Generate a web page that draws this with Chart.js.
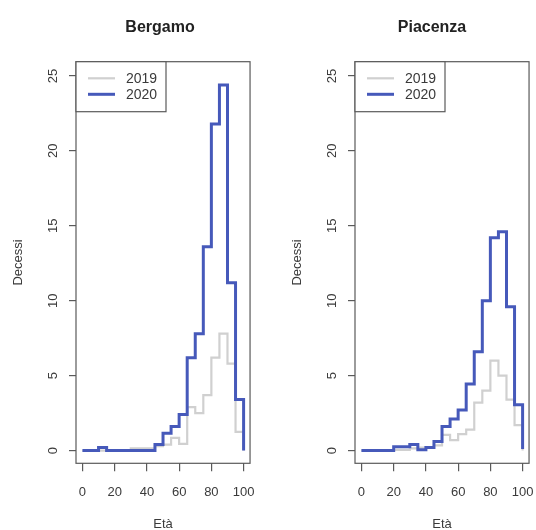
<!DOCTYPE html>
<html>
<head>
<meta charset="utf-8">
<script src="https://cdn.jsdelivr.net/npm/chart.js@4.4.1/dist/chart.umd.min.js"></script>
<style>
  html, body { margin: 0; padding: 0; background: #fff; }
  body { width: 536px; height: 530px; position: relative; overflow: hidden; }
  canvas { position: absolute; top: 0; }
  #bergamo { left: 0; }
  #piacenza { left: 279px; }
</style>
</head>
<body>
<canvas id="bergamo" width="268" height="530"></canvas>
<canvas id="piacenza" width="268" height="530"></canvas>
<script>
  "use strict";

  // age classes (years), one step per 5 years
  const ages = [0, 5, 10, 15, 20, 25, 30, 35, 40, 45, 50, 55, 60, 65, 70, 75, 80, 85, 90, 95, 100];
  const xTicks = [0, 20, 40, 60, 80, 100];
  const yTicks = [0, 5, 10, 15, 20, 25];
  const years = ["2019", "2020"];

  const bergamo2019 = [0, 0, 0, 0, 0, 0, 0.15, 0.15, 0.15, 0.3, 0.4, 0.85, 0.45, 2.9, 2.5, 3.7, 6.2, 7.8, 5.8, 1.25, 0];
  const bergamo2020 = [0, 0, 0.2, 0, 0, 0, 0, 0, 0, 0.4, 1.15, 1.6, 2.4, 6.2, 7.8, 13.6, 21.8, 24.4, 11.2, 3.4, 0];

  const piacenza2019 = [0, 0, 0, 0, 0.05, 0.05, 0.15, 0.2, 0.2, 0.35, 1.05, 0.7, 1.1, 1.4, 3.2, 4.0, 6.0, 5.0, 3.4, 1.7, 0];
  const piacenza2020 = [0, 0, 0, 0, 0.25, 0.25, 0.4, 0.05, 0.2, 0.6, 1.6, 2.1, 2.7, 4.45, 6.6, 10.0, 14.2, 14.6, 9.6, 3.05, 0.1];

  const FONT = "'Liberation Sans', Arial, Helvetica, sans-serif";
  const TEXT = "#3a3a3a";
  const FRAME = "#5a5a5a";

  // box round the plot, panel title and the boxed legend, R style
  const rFrame = {
    id: "rFrame",
    afterDraw(chart, args, opts) {
      const ctx = chart.ctx;
      const a = chart.chartArea;
      ctx.save();
      ctx.strokeStyle = FRAME;
      ctx.lineWidth = 1.2;
      ctx.strokeRect(a.left, a.top, a.right - a.left, a.bottom - a.top);

      ctx.fillStyle = "#222";
      ctx.font = "bold 16px " + FONT;
      ctx.textAlign = "center";
      ctx.textBaseline = "middle";
      ctx.fillText(opts.title, opts.titleX, 28);

      // legend
      const lw = 90, lh = 50;
      ctx.fillStyle = "#fff";
      ctx.fillRect(a.left, a.top, lw, lh);
      ctx.strokeRect(a.left, a.top, lw, lh);
      ctx.font = "14px " + FONT;
      ctx.textAlign = "left";
      chart.data.datasets.forEach((ds, i) => {
        const y = a.top + 16.6 + i * 16;
        ctx.strokeStyle = ds.borderColor;
        ctx.lineWidth = ds.borderWidth;
        ctx.beginPath();
        ctx.moveTo(a.left + 12, y);
        ctx.lineTo(a.left + 39, y);
        ctx.stroke();
        ctx.fillStyle = TEXT;
        ctx.fillText(ds.label, a.left + 50, y + 1);
      });
      ctx.restore();
    }
  };

  function makePanel(canvasId, title, titleX, d2019, d2020) {
    const toPoints = (vals) => ages.map((x, i) => ({ x: x, y: vals[i] }));

    return new Chart(document.getElementById(canvasId), {
      type: "line",
      data: {
        datasets: [{
          label: years[0],
          data: toPoints(d2019),
          borderColor: "#d0d0d0",
          borderWidth: 2.2,
          stepped: "before",
          pointRadius: 0,
          fill: false,
          order: 1
        }, {
          label: years[1],
          data: toPoints(d2020),
          borderColor: "#4659ba",
          borderWidth: 3,
          stepped: "before",
          pointRadius: 0,
          fill: false,
          order: 0
        }]
      },
      plugins: [rFrame],
      options: {
        responsive: false,
        animation: false,
        devicePixelRatio: 1,
        layout: { autoPadding: false, padding: { top: 61.7, bottom: 0, left: 0, right: 15 } },
        plugins: {
          legend: { display: false },
          tooltip: { enabled: false },
          title: { display: false },
          rFrame: { title: title, titleX: titleX }
        },
        scales: {
          x: {
            type: "linear",
            min: -4,
            max: 104,
            afterBuildTicks: (scale) => { scale.ticks = xTicks.map((v) => ({ value: v })); },
            afterFit: (scale) => { scale.height = 66.7; },
            grid: { drawOnChartArea: false, drawTicks: true, tickLength: 8, color: FRAME, lineWidth: 1.2 },
            border: { display: false },
            ticks: { color: TEXT, font: { family: FONT, size: 13 }, padding: 13, maxRotation: 0 },
            title: { display: true, text: "Età", color: TEXT, font: { family: FONT, size: 13 }, padding: { top: 0, bottom: -2 } }
          },
          y: {
            min: -0.85,
            max: 25.95,
            afterBuildTicks: (scale) => { scale.ticks = yTicks.map((v) => ({ value: v })); },
            afterFit: (scale) => { scale.width = 76; },
            grid: { drawOnChartArea: false, drawTicks: true, tickLength: 7, color: FRAME, lineWidth: 1.2 },
            border: { display: false },
            ticks: { color: TEXT, font: { family: FONT, size: 13 }, minRotation: 90, maxRotation: 90, crossAlign: "center", padding: 8 },
            title: { display: true, text: "Decessi", color: TEXT, font: { family: FONT, size: 13 }, padding: { top: 11, bottom: 0 } }
          }
        }
      }
    });
  }

  makePanel("bergamo", "Bergamo", 160, bergamo2019, bergamo2020);
  makePanel("piacenza", "Piacenza", 153, piacenza2019, piacenza2020);
</script>
</body>
</html>
